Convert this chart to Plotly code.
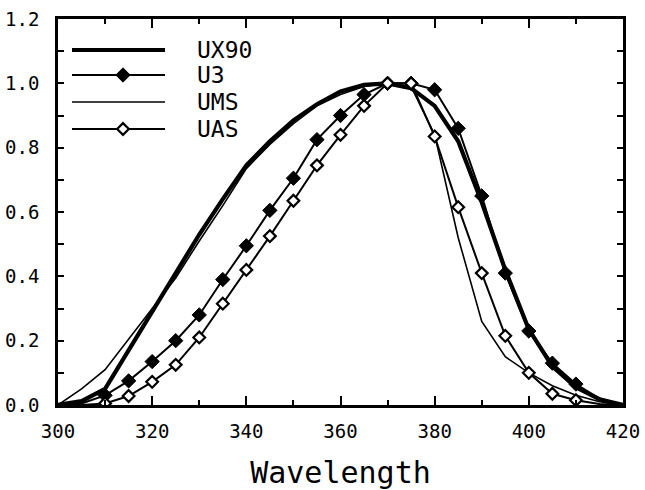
import plotly.graph_objects as go

# ---- data ----
wavelength = [300, 305, 310, 315, 320, 325, 330, 335, 340, 345, 350, 355, 360,
              365, 370, 375, 380, 385, 390, 395, 400, 405, 410, 415, 420]

ux90 = [0.0, 0.012, 0.05, 0.17, 0.29, 0.41, 0.53, 0.64, 0.745, 0.82, 0.885, 0.935, 0.975,
        0.995, 1.0, 0.985, 0.93, 0.82, 0.63, 0.42, 0.235, 0.12, 0.055, 0.018, 0.0]

u3 = [0.0, 0.005, 0.03, 0.075, 0.135, 0.20, 0.28, 0.39, 0.495, 0.605, 0.705, 0.825, 0.90,
      0.965, 1.0, 1.0, 0.98, 0.86, 0.65, 0.41, 0.23, 0.13, 0.065, 0.02, 0.0]

ums = [0.0, 0.05, 0.11, 0.205, 0.30, 0.395, 0.51, 0.62, 0.735, 0.81, 0.875, 0.93, 0.965,
       0.99, 1.0, 0.99, 0.84, 0.52, 0.26, 0.15, 0.10, 0.06, 0.03, 0.01, 0.0]

uas = [0.0, 0.0, 0.005, 0.028, 0.072, 0.125, 0.21, 0.315, 0.42, 0.525, 0.635, 0.745, 0.84,
       0.93, 1.0, 1.0, 0.835, 0.615, 0.41, 0.215, 0.10, 0.035, 0.015, 0.003, 0.0]

series_names = ["UX90", "U3", "UMS", "UAS"]
x_ticks = [300, 320, 340, 360, 380, 400, 420]
y_ticks = [0.0, 0.2, 0.4, 0.6, 0.8, 1.0, 1.2]

# ---- style ----
W, H = 645, 490
ML, MR, MT, MB = 58, 22, 19, 85
MONO = "DejaVu Sans Mono"
marker_from, marker_to = 310, 410

def msizes(sz):
    return [sz if marker_from <= w <= marker_to else 0 for w in wavelength]

fig = go.Figure()

fig.add_trace(go.Scatter(x=wavelength, y=ums, mode="lines", name=series_names[2],
                         line=dict(color="black", width=1.6), showlegend=False))
fig.add_trace(go.Scatter(x=wavelength, y=ux90, mode="lines", name=series_names[0],
                         line=dict(color="black", width=4.2), showlegend=False))
fig.add_trace(go.Scatter(x=wavelength, y=u3, mode="lines+markers", name=series_names[1],
                         line=dict(color="black", width=2),
                         marker=dict(symbol="diamond", size=msizes(11), color="black",
                                     opacity=1, line=dict(color="black", width=1)),
                         showlegend=False))
fig.add_trace(go.Scatter(x=wavelength, y=uas, mode="lines+markers", name=series_names[3],
                         line=dict(color="black", width=2),
                         marker=dict(symbol="diamond", size=msizes(9), color="white",
                                     opacity=1, line=dict(color="black", width=2.2)),
                         showlegend=False))

# ---- manual legend (drawn on a hidden overlay axis in pixel units) ----
leg_rows_px = [50, 75, 102, 129]
leg_x0, leg_x1, leg_mid, leg_text_x = 72, 165, 123, 195
leg_styles = [
    dict(width=4.2, marker=None),
    dict(width=2, marker=dict(symbol="diamond", size=11, color="black", opacity=1,
                              line=dict(color="black", width=1))),
    dict(width=1.6, marker=None),
    dict(width=2, marker=dict(symbol="diamond", size=9, color="white", opacity=1,
                              line=dict(color="black", width=2.2))),
]
for name, ry, st in zip(series_names, leg_rows_px, leg_styles):
    fig.add_trace(go.Scatter(x=[leg_x0, leg_x1], y=[ry, ry], mode="lines",
                             line=dict(color="black", width=st["width"]),
                             xaxis="x2", yaxis="y2", showlegend=False, hoverinfo="skip"))
    if st["marker"] is not None:
        fig.add_trace(go.Scatter(x=[leg_mid], y=[ry], mode="markers", marker=st["marker"],
                                 xaxis="x2", yaxis="y2", showlegend=False, hoverinfo="skip"))
    fig.add_annotation(x=leg_text_x, y=ry, xref="x2", yref="y2", text=name,
                       showarrow=False, xanchor="left", yanchor="middle",
                       font=dict(family=MONO, size=23, color="black"))

fig.update_layout(
    width=W, height=H,
    margin=dict(l=ML, r=MR, t=MT, b=MB, pad=0, autoexpand=False),
    paper_bgcolor="white", plot_bgcolor="white",
    showlegend=False,
    xaxis=dict(
        range=[300, 420], tickvals=x_ticks, ticktext=[str(v) for v in x_ticks],
        ticks="inside", ticklen=9, tickwidth=2, tickcolor="black",
        minor=dict(dtick=10, ticks="inside", ticklen=5, tickwidth=2, tickcolor="black"),
        showline=True, linecolor="black", linewidth=2.5, mirror="ticks",
        showgrid=False, zeroline=False, automargin=False,
        tickfont=dict(family=MONO, size=19, color="black"),
        ticklabelstandoff=7,
        title=dict(text="Wavelength", font=dict(family=MONO, size=30, color="black"),
                   standoff=24),
    ),
    yaxis=dict(
        range=[0, 1.2], tickvals=y_ticks, ticktext=[f"{v:.1f}" for v in y_ticks],
        ticks="inside", ticklen=6, tickwidth=2, tickcolor="black",
        minor=dict(dtick=0.1, ticks="inside", ticklen=6, tickwidth=2, tickcolor="black"),
        showline=True, linecolor="black", linewidth=2.5, mirror="ticks",
        showgrid=False, zeroline=False, automargin=False,
        tickfont=dict(family=MONO, size=19, color="black"),
        ticklabelstandoff=12,
    ),
    xaxis2=dict(range=[ML, W - MR], overlaying="x", visible=False, fixedrange=True),
    yaxis2=dict(range=[H - MB, MT], overlaying="y", visible=False, fixedrange=True),
)

fig.write_html("out.html")
